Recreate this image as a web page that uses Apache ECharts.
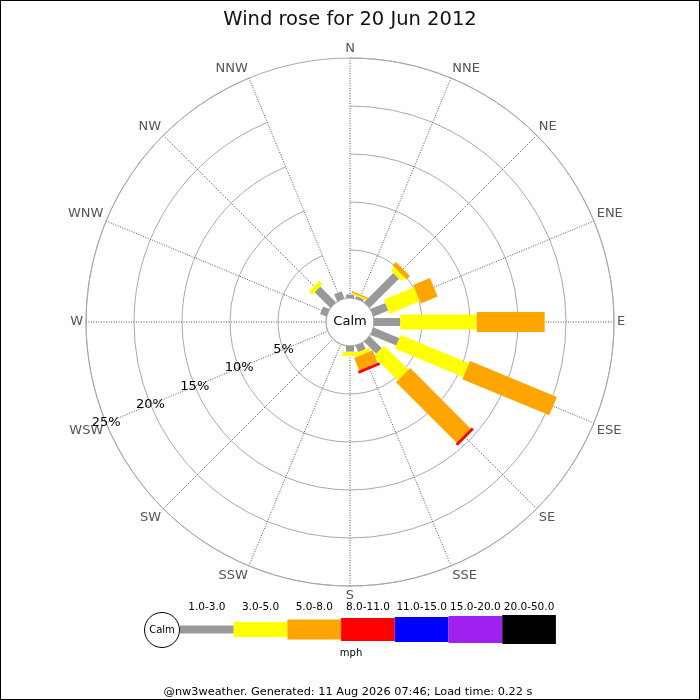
<!DOCTYPE html>
<html><head><meta charset="utf-8">
<script src="https://cdn.jsdelivr.net/npm/echarts@6/dist/echarts.min.js"></script>
<style>html,body{margin:0;padding:0;background:#fff}#c{width:700px;height:700px}</style>
</head><body><div id="c"></div>
<script>
// ---- data ----
const directions = ['N','NNE','NE','ENE','E','ESE','SE','SSE','S','SSW','SW','WSW','W','WNW','NW','NNW'];
const bandLabels = ['1.0-3.0','3.0-5.0','5.0-8.0','8.0-11.0','11.0-15.0','15.0-20.0','20.0-50.0'];
const speed1to3   = [0.35,0.25,4.3,1.65,2.74,2.9,1.77,0.73,0.6,0,0,0,0,0.7,2.3,0.8];
const speed3to5   = [0,0.15,0.5,3.4,7.96,7.7,3.56,0.4,0.45,0,0,0,0,0,0.5,0];
const speed5to8   = [0,0.15,0.5,1.9,7.08,9.8,8.92,1.4,0,0,0,0,0,0,0,0];
const speed8to11  = [0,0,0,0,0,0,0.3,0.3,0,0,0,0,0,0,0,0];
const speed11to15 = [0,0,0,0,0,0,0,0,0,0,0,0,0,0,0,0];
const speed15to20 = [0,0,0,0,0,0,0,0,0,0,0,0,0,0,0,0];
const speed20to50 = [0,0,0,0,0,0,0,0,0,0,0,0,0,0,0,0];
const ringTicks = [5,10,15,20,25];
const labelDirection = 'WSW';
const unitLabel = 'mph';
const titleText = 'Wind rose for 20 Jun 2012';
const footerText = '@nw3weather. Generated: 11 Aug 2026 07:46; Load time: 0.22 s';

// ---- style ----
const bandColors = ['#999999','#ffff00','#ffa500','#ff0000','#0000ff','#a020f0','#000000'];
const bandWidths = [8,15,20,23,25,27,29];
const FONT = 'DejaVu Sans';
const CX = 350, CY = 322, R0 = 24, R1 = 264;

const bands = [speed1to3, speed3to5, speed5to8, speed8to11, speed11to15, speed15to20, speed20to50];
const roseData = [];
directions.forEach((d, i) => {
  let cum = 0;
  bands.forEach((arr, b) => {
    const v = arr[i];
    if (v > 0) roseData.push([i, cum, cum + v, b]);
    cum += v;
  });
});

function renderBar(params, api) {
  const cs = params.coordSys;
  const d = api.value(0), r0 = api.value(1), r1 = api.value(2), b = api.value(3);
  const p0 = api.coord([r0, d]);
  const p1 = api.coord([r1, d]);
  let ux = p1[0] - cs.cx, uy = p1[1] - cs.cy;
  const len = Math.hypot(ux, uy) || 1;
  ux /= len; uy /= len;
  const h = bandWidths[b] / 2;
  const nx = -uy * h, ny = ux * h;
  return {
    type: 'polygon',
    shape: { points: [[p0[0]+nx, p0[1]+ny], [p1[0]+nx, p1[1]+ny], [p1[0]-nx, p1[1]-ny], [p0[0]-nx, p0[1]-ny]] },
    style: { fill: bandColors[b] }
  };
}

// legend graphics
const legendX = 180, legendSeg = 53.7, legendY = 629.5;
const graphics = [
  { type: 'rect', shape: { x: 0, y: 0, width: 700, height: 700 }, style: { fill: 'none', stroke: '#000', lineWidth: 2 }, silent: true, z: 100 },
  { type: 'text', x: CX, y: CY, style: { text: 'Calm', font: '13px ' + FONT, fill: '#000', align: 'center', verticalAlign: 'middle' }, z: 50 },
  { type: 'circle', shape: { cx: 162, cy: 630, r: 17.5 }, style: { fill: '#fff', stroke: '#000', lineWidth: 1 }, z: 50 },
  { type: 'text', x: 162, y: 630, style: { text: 'Calm', font: '10px ' + FONT, fill: '#000', align: 'center', verticalAlign: 'middle' }, z: 51 },
  { type: 'text', x: 351, y: 653, style: { text: unitLabel, font: '10px ' + FONT, fill: '#000', align: 'center', verticalAlign: 'middle' }, z: 50 },
  { type: 'text', x: 348, y: 692, style: { text: footerText, font: '11.3px ' + FONT, fill: '#000', align: 'center', verticalAlign: 'middle' }, z: 50 }
];
bandLabels.forEach((lab, b) => {
  const x = legendX + b * legendSeg;
  graphics.push({ type: 'rect', shape: { x: x, y: legendY - bandWidths[b] / 2, width: legendSeg, height: bandWidths[b] }, style: { fill: bandColors[b] }, z: 49 });
  graphics.push({ type: 'text', x: x + legendSeg / 2, y: 607, style: { text: lab, font: '10.5px ' + FONT, fill: '#000', align: 'center', verticalAlign: 'middle' }, z: 50 });
});

const chart = echarts.init(document.getElementById('c'), null, { renderer: 'canvas' });
chart.setOption({
  backgroundColor: '#fff',
  animation: false,
  title: { text: titleText, left: 'center', top: 5, textStyle: { fontFamily: FONT, fontSize: 19.5, fontWeight: 'normal', color: '#111' } },
  polar: [
    { center: [CX, CY], radius: [R0, R1] },
    { center: [CX, CY], radius: [R0, R1] }
  ],
  angleAxis: [
    {
      polarIndex: 0, type: 'category', data: directions, boundaryGap: false, startAngle: 90, clockwise: true,
      axisLine: { show: true, lineStyle: { color: '#aaaaaa', width: 1 } },
      axisTick: { show: false },
      axisLabel: { show: true, margin: 3, color: '#555', fontFamily: FONT, fontSize: 13 },
      splitLine: { show: true, lineStyle: { color: '#555', width: 1, type: [1, 1.5] } }
    },
    {
      polarIndex: 1, type: 'category', data: directions, boundaryGap: false, clockwise: true,
      startAngle: 90 - 22.5 * directions.indexOf(labelDirection),
      show: false
    }
  ],
  radiusAxis: [
    {
      polarIndex: 0, type: 'value', min: 0, max: ringTicks[ringTicks.length - 1], interval: ringTicks[0],
      axisLine: { show: false }, axisTick: { show: false }, axisLabel: { show: false },
      splitLine: { show: true, lineStyle: { color: '#aaaaaa', width: 1 } }
    },
    {
      polarIndex: 1, type: 'value', min: 0, max: ringTicks[ringTicks.length - 1], interval: ringTicks[0],
      axisLine: { show: false }, axisTick: { show: false }, splitLine: { show: false },
      axisLabel: { show: true, margin: 0, align: 'center', verticalAlign: 'middle', color: '#000', fontFamily: FONT, fontSize: 13,
        formatter: v => (ringTicks.indexOf(v) >= 0 ? v + '%' : '') }
    }
  ],
  series: [{
    type: 'custom', coordinateSystem: 'polar', polarIndex: 0,
    renderItem: renderBar,
    encode: { angle: 0, radius: [1, 2] },
    data: roseData,
    z: 10
  }],
  graphic: graphics
});
</script></body></html>
